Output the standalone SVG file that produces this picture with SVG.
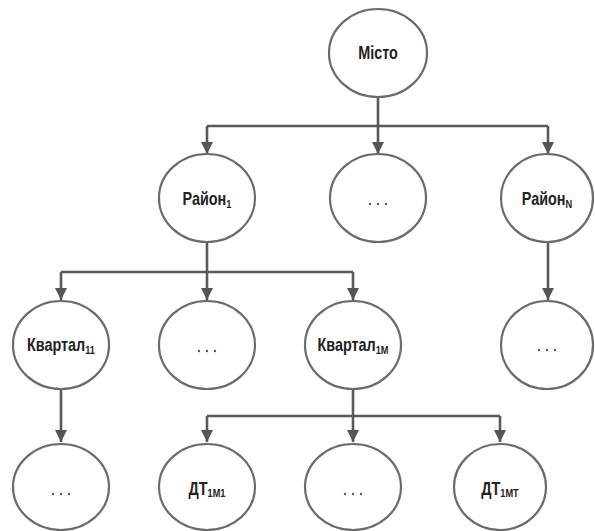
<svg xmlns="http://www.w3.org/2000/svg" width="595" height="531" viewBox="0 0 595 531">
  <style>
    .node { fill: #ffffff; stroke: #6b6b6b; stroke-width: 2.2; }
    .lbl { font-family: "Liberation Sans", Arial, sans-serif; font-size: 18px; font-weight: bold; fill: #222222; text-anchor: middle; }
    .sub { font-size: 11.5px; }
    .wire { fill: none; stroke: #595959; stroke-width: 2.6; }
    .dot { fill: #555555; }
  </style>
  <defs>
    <marker id="arrow" viewBox="0 0 12 12" refX="12" refY="6" markerWidth="12" markerHeight="12" markerUnits="userSpaceOnUse" orient="auto">
      <path d="M0,0 L12,6 L0,12 Z" fill="#555555"/>
    </marker>
    <g id="dots">
      <circle class="dot" cx="-8" cy="0" r="1.2"/>
      <circle class="dot" cx="0" cy="0" r="1.2"/>
      <circle class="dot" cx="8" cy="0" r="1.2"/>
    </g>
  </defs>
  <rect width="595" height="531" fill="#ffffff"/>

  <!-- connectors -->
  <g id="connectors">
    <path class="wire" d="M378,97 V126"/>
    <path class="wire" d="M207,126 H548"/>
    <path class="wire" d="M207,126 V154" marker-end="url(#arrow)"/>
    <path class="wire" d="M378,126 V154" marker-end="url(#arrow)"/>
    <path class="wire" d="M548,126 V154" marker-end="url(#arrow)"/>

    <path class="wire" d="M207,242 V272"/>
    <path class="wire" d="M61,272 H353"/>
    <path class="wire" d="M61,272 V300" marker-end="url(#arrow)"/>
    <path class="wire" d="M207,272 V300" marker-end="url(#arrow)"/>
    <path class="wire" d="M353,272 V300" marker-end="url(#arrow)"/>

    <path class="wire" d="M548,242 V300" marker-end="url(#arrow)"/>

    <path class="wire" d="M61,389 V442" marker-end="url(#arrow)"/>

    <path class="wire" d="M353,389 V416"/>
    <path class="wire" d="M207,416 H500"/>
    <path class="wire" d="M207,416 V442" marker-end="url(#arrow)"/>
    <path class="wire" d="M353,416 V442" marker-end="url(#arrow)"/>
    <path class="wire" d="M500,416 V442" marker-end="url(#arrow)"/>
  </g>

  <!-- level 1 -->
  <g id="misto">
    <ellipse class="node" cx="378" cy="53" rx="49" ry="44"/>
    <text class="lbl" transform="translate(378,59) scale(0.8,1)">Місто</text>
  </g>

  <!-- level 2 -->
  <g id="raion1">
    <ellipse class="node" cx="207" cy="198" rx="48" ry="44"/>
    <text class="lbl" transform="translate(207,205) scale(0.8,1)">Район<tspan class="sub" dy="3">1</tspan></text>
  </g>
  <g id="raion-mid">
    <ellipse class="node" cx="378" cy="198" rx="48" ry="44"/>
    <use href="#dots" x="378" y="204"/>
  </g>
  <g id="raionN">
    <ellipse class="node" cx="547" cy="198" rx="46" ry="44"/>
    <text class="lbl" transform="translate(547,205) scale(0.8,1)">Район<tspan class="sub" dy="3">N</tspan></text>
  </g>

  <!-- level 3 -->
  <g id="kvartal11">
    <ellipse class="node" cx="61" cy="345" rx="48" ry="44"/>
    <text class="lbl" transform="translate(61,351) scale(0.8,1)">Квартал<tspan class="sub" dy="3">11</tspan></text>
  </g>
  <g id="kvartal-mid">
    <ellipse class="node" cx="207" cy="345" rx="48" ry="44"/>
    <use href="#dots" x="207" y="351"/>
  </g>
  <g id="kvartal1M">
    <ellipse class="node" cx="353" cy="345" rx="48" ry="44"/>
    <text class="lbl" transform="translate(353,351) scale(0.8,1)">Квартал<tspan class="sub" dy="3">1M</tspan></text>
  </g>
  <g id="raionN-child">
    <ellipse class="node" cx="547" cy="345" rx="46" ry="44"/>
    <use href="#dots" x="547" y="350"/>
  </g>

  <!-- level 4 -->
  <g id="kvartal11-child">
    <ellipse class="node" cx="61" cy="487" rx="48" ry="43"/>
    <use href="#dots" x="61" y="494"/>
  </g>
  <g id="dt1M1">
    <ellipse class="node" cx="207" cy="487" rx="48" ry="43"/>
    <text class="lbl" transform="translate(207,495) scale(0.8,1)">ДТ<tspan class="sub" dy="2">1M1</tspan></text>
  </g>
  <g id="dt-mid">
    <ellipse class="node" cx="353" cy="487" rx="48" ry="43"/>
    <use href="#dots" x="353" y="494"/>
  </g>
  <g id="dt1MT">
    <ellipse class="node" cx="500" cy="487" rx="46" ry="43"/>
    <text class="lbl" transform="translate(500,495) scale(0.8,1)">ДТ<tspan class="sub" dy="2">1MT</tspan></text>
  </g>
</svg>
